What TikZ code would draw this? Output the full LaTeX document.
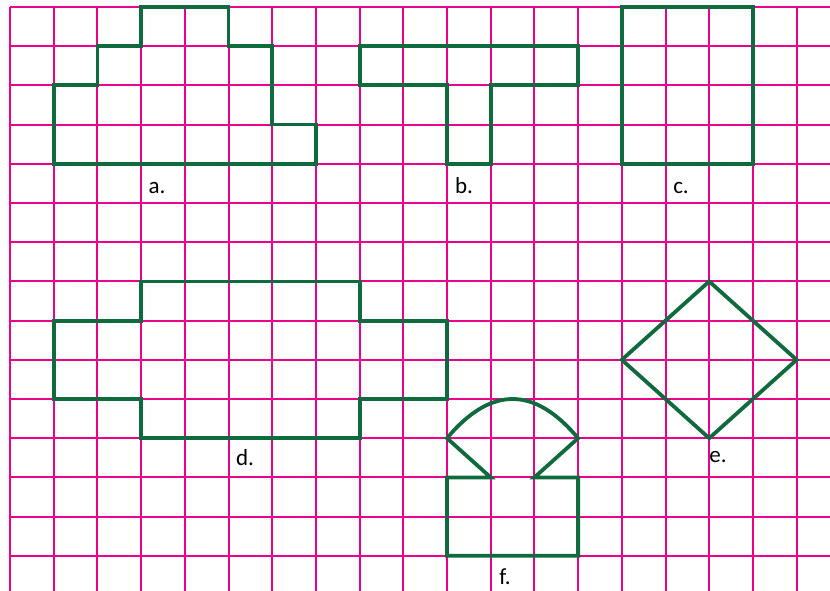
\documentclass[tikz,border=0pt]{standalone}
\usepackage{fontspec}
\setmainfont{Carlito}
\definecolor{gridpink}{HTML}{EC008C}
\definecolor{shapegreen}{HTML}{0F6A3E}
\begin{document}
\begin{tikzpicture}[x=43.7pt,y=-39.2pt,
  gridline/.style={gridpink,line width=2pt},
  shapeline/.style={shapegreen,line width=3.8pt,line join=miter},
  lbl/.style={anchor=base,font=\fontsize{23}{23}\selectfont,inner sep=0pt}]
\fill[white] (-0.22883,-0.17857) rectangle (18.7643,14.8980);
\useasboundingbox (-0.22883,-0.17857) rectangle (18.7643,14.8980);
% grid
\foreach \i in {0,...,18} \draw[gridline] (\i,0) -- (\i,14.898);
\foreach \j in {0,...,14} \draw[gridline] (0,\j) -- (18.7643,\j);
% a
\draw[shapeline] (3,0) -- (5,0) -- (5,1) -- (6,1) -- (6,3) -- (7,3) -- (7,4) -- (1,4) -- (1,2) -- (2,2) -- (2,1) -- (3,1) -- cycle;
% b
\draw[shapeline] (8,1) -- (13,1) -- (13,2) -- (11,2) -- (11,4) -- (10,4) -- (10,2) -- (8,2) -- cycle;
% c
\draw[shapeline] (14,0) rectangle (17,4);
% d
\draw[shapeline] (3,7) -- (8,7) -- (8,8) -- (10,8) -- (10,10) -- (8,10) -- (8,11) -- (3,11) -- (3,10) -- (1,10) -- (1,8) -- (3,8) -- cycle;
% e
\draw[shapeline] (16,7) -- (18,9) -- (16,11) -- (14,9) -- cycle;
% f
\draw[shapeline] (11,12) -- (10,11) .. controls (11,9.667) and (12,9.667) .. (13,11) -- (12,12) -- (13,12) -- (13,14) -- (10,14) -- (10,12) -- cycle;
% labels
\node[lbl] (la) at (3.364,4.770) {a.};
\node[lbl] (lb) at (10.389,4.770) {b.};
\node[lbl] (lc) at (15.355,4.770) {c.};
\node[lbl] (ld) at (5.378,11.709) {d.};
\node[lbl] (le) at (16.20,11.63) {e.};
\node[lbl] (lf) at (11.327,14.72) {f.};
\end{tikzpicture}
\end{document}
